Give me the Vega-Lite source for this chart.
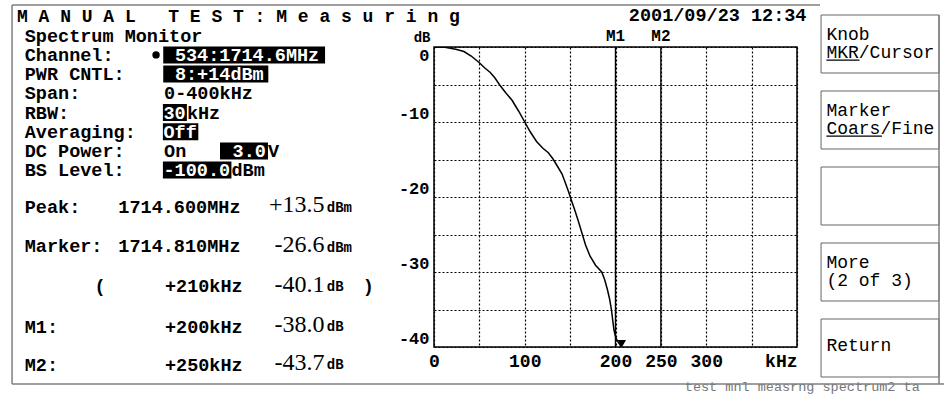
{
  "$schema": "https://vega.github.io/schema/vega-lite/v6.json",
  "width": 363,
  "height": 300,
  "autosize": {"type": "none"},
  "padding": {"left": 434, "top": 47, "right": 147, "bottom": 47},
  "background": "white",
  "config": {"view": {"stroke": "black", "strokeWidth": 1.5}, "font": "Liberation Mono"},
  "datasets": {
    "trace": [
      {"kHz": 0, "dB": 0}, {"kHz": 12, "dB": -0.05}, {"kHz": 24, "dB": -0.3}, {"kHz": 33, "dB": -0.6},
      {"kHz": 41, "dB": -1.2}, {"kHz": 50, "dB": -2.1}, {"kHz": 56, "dB": -2.8}, {"kHz": 62, "dB": -3.4},
      {"kHz": 67, "dB": -4.1}, {"kHz": 72, "dB": -5}, {"kHz": 79, "dB": -6.1}, {"kHz": 86, "dB": -7.1},
      {"kHz": 93, "dB": -8.5}, {"kHz": 100, "dB": -10}, {"kHz": 106, "dB": -11.3}, {"kHz": 113, "dB": -12.6},
      {"kHz": 120, "dB": -13.5}, {"kHz": 126, "dB": -14.1}, {"kHz": 131, "dB": -14.9}, {"kHz": 136, "dB": -15.9},
      {"kHz": 141, "dB": -16.9}, {"kHz": 145, "dB": -18.2}, {"kHz": 148, "dB": -19.2}, {"kHz": 151, "dB": -20.3},
      {"kHz": 155, "dB": -21.7}, {"kHz": 159, "dB": -23.2}, {"kHz": 163.5, "dB": -25}, {"kHz": 167, "dB": -26.4},
      {"kHz": 172, "dB": -27.9}, {"kHz": 178, "dB": -29.1}, {"kHz": 184.8, "dB": -30}, {"kHz": 188, "dB": -31},
      {"kHz": 191, "dB": -32.3}, {"kHz": 193.5, "dB": -33.6}, {"kHz": 195.5, "dB": -35}, {"kHz": 197, "dB": -36.5},
      {"kHz": 198.3, "dB": -37.7}, {"kHz": 200, "dB": -38.6}, {"kHz": 202, "dB": -39.2}, {"kHz": 205, "dB": -39.7},
      {"kHz": 206.5, "dB": -40}
    ],
    "markers": [{"marker": "M1", "kHz": 200}, {"marker": "M2", "kHz": 250}],
    "cursor": [{"kHz": 207, "dB": -39.55}],
    "screen": [
      {"kind": "title", "text": "M A N U A L\u00a0\u00a0\u00a0T E S T : M e a s u r i n g", "col": 0.32, "line": 0.02, "selected": false},
      {"kind": "main", "text": "2001/09/23 12:34", "col": 53.9, "line": -0.08, "selected": false},
      {"kind": "main", "text": "Spectrum Monitor", "col": 1, "line": 1.0, "selected": false},
      {"kind": "main", "text": "Channel:", "col": 1, "line": 2, "selected": false},
      {"kind": "main", "text": "534:1714.6MHz", "col": 14.15, "line": 2, "selected": true},
      {"kind": "main", "text": "PWR CNTL:", "col": 1, "line": 3, "selected": false},
      {"kind": "main", "text": "8:+14dBm", "col": 14.15, "line": 3, "selected": true},
      {"kind": "main", "text": "Span:", "col": 1, "line": 4, "selected": false},
      {"kind": "main", "text": "0-400kHz", "col": 13.2, "line": 4, "selected": false},
      {"kind": "main", "text": "RBW:", "col": 1, "line": 5, "selected": false},
      {"kind": "main", "text": "30", "col": 13.15, "line": 5, "selected": true},
      {"kind": "main", "text": "kHz", "col": 15.2, "line": 5, "selected": false},
      {"kind": "main", "text": "Averaging:", "col": 1, "line": 6, "selected": false},
      {"kind": "main", "text": "Off", "col": 13.15, "line": 6, "selected": true},
      {"kind": "main", "text": "DC Power:", "col": 1, "line": 7, "selected": false},
      {"kind": "main", "text": "On", "col": 13.2, "line": 7, "selected": false},
      {"kind": "main", "text": "3.0", "col": 19.2, "line": 7, "selected": true},
      {"kind": "main", "text": "V", "col": 22.3, "line": 7, "selected": false},
      {"kind": "main", "text": "BS Level:", "col": 1, "line": 8, "selected": false},
      {"kind": "main", "text": "-100.0", "col": 13.15, "line": 8, "selected": true},
      {"kind": "main", "text": "dBm", "col": 19.1, "line": 8, "selected": false},
      {"kind": "main", "text": "Peak:", "col": 1, "line": 9.9, "selected": false},
      {"kind": "main", "text": "1714.600MHz", "col": 9.2, "line": 9.9, "selected": false},
      {"kind": "main", "text": "Marker:", "col": 1, "line": 11.95, "selected": false},
      {"kind": "main", "text": "1714.810MHz", "col": 9.2, "line": 11.95, "selected": false},
      {"kind": "main", "text": "(", "col": 7.1, "line": 14.05, "selected": false},
      {"kind": "main", "text": "+210kHz", "col": 13.28, "line": 14.05, "selected": false},
      {"kind": "main", "text": ")", "col": 30.6, "line": 14.05, "selected": false},
      {"kind": "main", "text": "M1:", "col": 1, "line": 16.15, "selected": false},
      {"kind": "main", "text": "+200kHz", "col": 13.28, "line": 16.15, "selected": false},
      {"kind": "main", "text": "M2:", "col": 1, "line": 18.15, "selected": false},
      {"kind": "main", "text": "+250kHz", "col": 13.28, "line": 18.15, "selected": false},
      {"kind": "big", "text": "+13.5", "col": 27.25, "line": 9.82, "selected": false},
      {"kind": "big", "text": "-26.6", "col": 27.25, "line": 11.9, "selected": false},
      {"kind": "big", "text": "-40.1", "col": 27.25, "line": 13.98, "selected": false},
      {"kind": "big", "text": "-38.0", "col": 27.25, "line": 16.07, "selected": false},
      {"kind": "big", "text": "-43.7", "col": 27.25, "line": 18.06, "selected": false},
      {"kind": "unit", "text": "dBm", "col": 27.45, "line": 9.99, "selected": false},
      {"kind": "unit", "text": "dBm", "col": 27.45, "line": 12.07, "selected": false},
      {"kind": "unit", "text": "dB", "col": 27.45, "line": 14.07, "selected": false},
      {"kind": "unit", "text": "dB", "col": 27.45, "line": 16.16, "selected": false},
      {"kind": "unit", "text": "dB", "col": 27.45, "line": 18.15, "selected": false},
      {"kind": "footer", "text": "test mnl measrng spectrum2 ta", "col": 58.8, "line": 19.3, "selected": false}
    ],
    "highlights": [
      {"line": 2, "from": 13.13, "to": 27.3},
      {"line": 3, "from": 13.13, "to": 22.33},
      {"line": 5, "from": 13.1, "to": 15.2},
      {"line": 6, "from": 13.1, "to": 16.2},
      {"line": 7, "from": 18.1, "to": 22.3},
      {"line": 8, "from": 13.1, "to": 19.1}
    ],
    "bullet": [{"col": 12.5, "line": 2}],
    "buttons": [
      {"button": 1, "upper": "Knob", "lower": "MKR/Cursor"},
      {"button": 2, "upper": "Marker", "lower": "Coars/Fine"},
      {"button": 3},
      {"button": 4, "upper": "More", "lower": "(2 of 3)"},
      {"button": 5, "single": "Return"}
    ],
    "underlines": [
      {"word": "MKR", "col": 71.2, "col_end": 74.1, "line": 2.27},
      {"word": "Coars", "col": 71.2, "col_end": 76.06, "line": 6.23}
    ]
  },
  "layer": [
    {
      "data": {"name": "trace"},
      "mark": {"type": "line", "color": "black", "strokeWidth": 1.5, "clip": true},
      "encoding": {
        "x": {"field": "kHz", "type": "quantitative", "scale": {"domain": [0, 400], "nice": false, "zero": false},
          "axis": {"values": [0, 50, 100, 150, 200, 250, 300, 350, 400],
            "labelExpr": "datum.value==400?'kHz':((datum.value%100==0||datum.value==250)?''+datum.value:'')",
            "title": null, "domain": false, "ticks": false, "grid": true, "gridColor": "black", "gridDash": [2, 2], "gridWidth": 1.2, "gridOpacity": 1,
            "labelFont": "Liberation Mono", "labelFontWeight": "bold", "labelFontSize": 18, "labelColor": "black", "labelPadding": 5,
            "labelOverlap": false, "labelFlush": false, "labelBound": false,
            "labelAlign": {"condition": {"test": "datum.value==400", "value": "right"}, "value": "center"}}},
        "y": {"field": "dB", "type": "quantitative", "scale": {"domain": [-40, 0], "nice": false, "zero": false},
          "axis": {"values": [-40, -35, -30, -25, -20, -15, -10, -5, 0],
            "labelExpr": "datum.value%10==0?''+datum.value:''",
            "title": "dB", "titleAngle": 0, "titleAlign": "right", "titleBaseline": "bottom", "titleX": -4, "titleY": -3,
            "titleFont": "Liberation Mono", "titleFontSize": 14, "titleFontWeight": "bold", "titleColor": "black",
            "domain": false, "ticks": false, "grid": true, "gridColor": "black", "gridDash": [2, 2], "gridWidth": 1.2, "gridOpacity": 1,
            "labelFont": "Liberation Mono", "labelFontWeight": "bold", "labelFontSize": 17, "labelColor": "black", "labelPadding": 5,
            "labelOverlap": false, "labelFlush": false,
            "labelBaseline": {"condition": {"test": "datum.value==0", "value": "top"}, "value": "bottom"}}}
      }
    },
    {
      "data": {"name": "markers"},
      "mark": {"type": "rule", "color": "black", "strokeWidth": 1.4},
      "encoding": {
        "x": {"field": "kHz", "type": "quantitative", "scale": {"domain": [0, 400], "nice": false, "zero": false}, "axis": null}
      }
    },
    {
      "data": {"name": "markers"},
      "mark": {"type": "text", "baseline": "bottom", "align": "center", "dy": -3, "font": "Liberation Mono", "fontWeight": "bold", "fontSize": 16, "color": "black"},
      "encoding": {
        "x": {"field": "kHz", "type": "quantitative", "scale": {"domain": [0, 400], "nice": false, "zero": false}, "axis": null},
        "y": {"datum": 0, "type": "quantitative", "scale": {"domain": [-40, 0], "nice": false, "zero": false}, "axis": null},
        "text": {"field": "marker"}
      }
    },
    {
      "data": {"name": "cursor"},
      "mark": {"type": "point", "shape": "triangle-down", "filled": true, "color": "black", "opacity": 1, "size": 70},
      "encoding": {
        "x": {"field": "kHz", "type": "quantitative", "scale": {"domain": [0, 400], "nice": false, "zero": false}, "axis": null},
        "y": {"field": "dB", "type": "quantitative", "scale": {"domain": [-40, 0], "nice": false, "zero": false}, "axis": null}
      }
    },
    {
      "data": {"name": "highlights"},
      "mark": {"type": "rect", "color": "black", "height": 17},
      "encoding": {
        "x": {"field": "from", "type": "quantitative", "scale": {"domain": [0, 80], "range": [-420.7, 492.9], "nice": false, "zero": false}, "axis": null},
        "x2": {"field": "to"},
        "y": {"field": "line", "type": "quantitative", "scale": {"domain": [0, 20], "range": [-30.5, 353.5], "nice": false, "zero": false}, "axis": null}
      }
    },
    {
      "data": {"name": "bullet"},
      "mark": {"type": "point", "shape": "circle", "filled": true, "color": "black", "opacity": 1, "size": 55},
      "encoding": {
        "x": {"field": "col", "type": "quantitative", "scale": {"domain": [0, 80], "range": [-420.7, 492.9], "nice": false, "zero": false}, "axis": null},
        "y": {"field": "line", "type": "quantitative", "scale": {"domain": [0, 20], "range": [-30.5, 353.5], "nice": false, "zero": false}, "axis": null}
      }
    },
    {
      "data": {"name": "screen"},
      "transform": [{"filter": "datum.kind == 'title'"}],
      "mark": {"type": "text", "align": "left", "baseline": "middle", "font": "Liberation Mono", "fontWeight": "bold", "fontSize": 18, "color": "black"},
      "encoding": {
        "x": {"field": "col", "type": "quantitative", "scale": {"domain": [0, 80], "range": [-420.7, 492.9], "nice": false, "zero": false}, "axis": null},
        "y": {"field": "line", "type": "quantitative", "scale": {"domain": [0, 20], "range": [-30.5, 353.5], "nice": false, "zero": false}, "axis": null},
        "text": {"field": "text"}
      }
    },
    {
      "data": {"name": "screen"},
      "transform": [{"filter": "datum.kind == 'main'"}],
      "mark": {"type": "text", "align": "left", "baseline": "middle", "font": "Liberation Mono", "fontWeight": "bold", "fontSize": 18.5},
      "encoding": {
        "x": {"field": "col", "type": "quantitative", "scale": {"domain": [0, 80], "range": [-420.7, 492.9], "nice": false, "zero": false}, "axis": null},
        "y": {"field": "line", "type": "quantitative", "scale": {"domain": [0, 20], "range": [-30.5, 353.5], "nice": false, "zero": false}, "axis": null},
        "text": {"field": "text"},
        "color": {"condition": {"test": "datum.selected", "value": "white"}, "value": "black"}
      }
    },
    {
      "data": {"name": "screen"},
      "transform": [{"filter": "datum.kind == 'big'"}],
      "mark": {"type": "text", "align": "right", "baseline": "middle", "font": "Liberation Serif", "fontSize": 24, "color": "black"},
      "encoding": {
        "x": {"field": "col", "type": "quantitative", "scale": {"domain": [0, 80], "range": [-420.7, 492.9], "nice": false, "zero": false}, "axis": null},
        "y": {"field": "line", "type": "quantitative", "scale": {"domain": [0, 20], "range": [-30.5, 353.5], "nice": false, "zero": false}, "axis": null},
        "text": {"field": "text"}
      }
    },
    {
      "data": {"name": "screen"},
      "transform": [{"filter": "datum.kind == 'unit'"}],
      "mark": {"type": "text", "align": "left", "baseline": "middle", "font": "Liberation Mono", "fontWeight": "bold", "fontSize": 14, "color": "black"},
      "encoding": {
        "x": {"field": "col", "type": "quantitative", "scale": {"domain": [0, 80], "range": [-420.7, 492.9], "nice": false, "zero": false}, "axis": null},
        "y": {"field": "line", "type": "quantitative", "scale": {"domain": [0, 20], "range": [-30.5, 353.5], "nice": false, "zero": false}, "axis": null},
        "text": {"field": "text"}
      }
    },
    {
      "data": {"name": "screen"},
      "transform": [{"filter": "datum.kind == 'footer'"}],
      "mark": {"type": "text", "align": "left", "baseline": "middle", "font": "Liberation Mono", "fontSize": 13.5, "color": "#777777"},
      "encoding": {
        "x": {"field": "col", "type": "quantitative", "scale": {"domain": [0, 80], "range": [-420.7, 492.9], "nice": false, "zero": false}, "axis": null},
        "y": {"field": "line", "type": "quantitative", "scale": {"domain": [0, 20], "range": [-30.5, 353.5], "nice": false, "zero": false}, "axis": null},
        "text": {"field": "text"}
      }
    },
    {
      "data": {"name": "buttons"},
      "mark": {"type": "rect", "fill": "white", "fillOpacity": 0, "stroke": "#666666", "strokeWidth": 1},
      "encoding": {
        "x": {"datum": 70.73, "type": "quantitative", "scale": {"domain": [0, 80], "range": [-420.7, 492.9], "nice": false, "zero": false}, "axis": null},
        "x2": {"datum": 81.06},
        "y": {"field": "button", "type": "ordinal", "scale": {"type": "band", "domain": [1, 2, 3, 4, 5], "range": [-32, 330], "paddingInner": 0.237, "paddingOuter": 0}, "axis": null}
      }
    },
    {
      "data": {"name": "buttons"},
      "transform": [{"filter": "isValid(datum.upper)"}],
      "mark": {"type": "text", "align": "left", "baseline": "middle", "dy": -9, "font": "Liberation Mono", "fontSize": 18, "color": "black"},
      "encoding": {
        "x": {"datum": 71.2, "type": "quantitative", "scale": {"domain": [0, 80], "range": [-420.7, 492.9], "nice": false, "zero": false}, "axis": null},
        "y": {"field": "button", "type": "ordinal", "scale": {"type": "band", "domain": [1, 2, 3, 4, 5], "range": [-32, 330], "paddingInner": 0.237, "paddingOuter": 0}, "axis": null},
        "text": {"field": "upper"}
      }
    },
    {
      "data": {"name": "buttons"},
      "transform": [{"filter": "isValid(datum.lower)"}],
      "mark": {"type": "text", "align": "left", "baseline": "middle", "dy": 9.3, "font": "Liberation Mono", "fontSize": 18, "color": "black"},
      "encoding": {
        "x": {"datum": 71.2, "type": "quantitative", "scale": {"domain": [0, 80], "range": [-420.7, 492.9], "nice": false, "zero": false}, "axis": null},
        "y": {"field": "button", "type": "ordinal", "scale": {"type": "band", "domain": [1, 2, 3, 4, 5], "range": [-32, 330], "paddingInner": 0.237, "paddingOuter": 0}, "axis": null},
        "text": {"field": "lower"}
      }
    },
    {
      "data": {"name": "buttons"},
      "transform": [{"filter": "isValid(datum.single)"}],
      "mark": {"type": "text", "align": "left", "baseline": "middle", "dy": -1.6, "font": "Liberation Mono", "fontSize": 18, "color": "black"},
      "encoding": {
        "x": {"datum": 71.2, "type": "quantitative", "scale": {"domain": [0, 80], "range": [-420.7, 492.9], "nice": false, "zero": false}, "axis": null},
        "y": {"field": "button", "type": "ordinal", "scale": {"type": "band", "domain": [1, 2, 3, 4, 5], "range": [-32, 330], "paddingInner": 0.237, "paddingOuter": 0}, "axis": null},
        "text": {"field": "single"}
      }
    },
    {
      "data": {"name": "underlines"},
      "mark": {"type": "rule", "color": "black", "strokeWidth": 1.2},
      "encoding": {
        "x": {"field": "col", "type": "quantitative", "scale": {"domain": [0, 80], "range": [-420.7, 492.9], "nice": false, "zero": false}, "axis": null},
        "x2": {"field": "col_end"},
        "y": {"field": "line", "type": "quantitative", "scale": {"domain": [0, 20], "range": [-30.5, 353.5], "nice": false, "zero": false}, "axis": null}
      }
    },
    {
      "data": {"values": [{"edge": "top"}]},
      "mark": {"type": "rule", "color": "#7f7f7f", "strokeWidth": 1.5},
      "encoding": {
        "x": {"datum": -0.11, "type": "quantitative", "scale": {"domain": [0, 80], "range": [-420.7, 492.9], "nice": false, "zero": false}, "axis": null},
        "x2": {"datum": 70.64},
        "y": {"datum": -0.6, "type": "quantitative", "scale": {"domain": [0, 20], "range": [-30.5, 353.5], "nice": false, "zero": false}, "axis": null}
      }
    },
    {
      "data": {"values": [{"edge": "left"}]},
      "mark": {"type": "rule", "color": "#7f7f7f", "strokeWidth": 1.5},
      "encoding": {
        "x": {"datum": -0.11, "type": "quantitative", "scale": {"domain": [0, 80], "range": [-420.7, 492.9], "nice": false, "zero": false}, "axis": null},
        "y": {"datum": -0.6, "type": "quantitative", "scale": {"domain": [0, 20], "range": [-30.5, 353.5], "nice": false, "zero": false}, "axis": null},
        "y2": {"datum": 19.14}
      }
    },
    {
      "data": {"values": [{"edge": "bottom"}]},
      "mark": {"type": "rule", "color": "#7f7f7f", "strokeWidth": 1.5},
      "encoding": {
        "x": {"datum": -0.11, "type": "quantitative", "scale": {"domain": [0, 80], "range": [-420.7, 492.9], "nice": false, "zero": false}, "axis": null},
        "x2": {"datum": 82},
        "y": {"datum": 19.14, "type": "quantitative", "scale": {"domain": [0, 20], "range": [-30.5, 353.5], "nice": false, "zero": false}, "axis": null}
      }
    },
    {
      "data": {"values": [{"edge": "right"}]},
      "mark": {"type": "rule", "color": "#7f7f7f", "strokeWidth": 1.5},
      "encoding": {
        "x": {"datum": 81.06, "type": "quantitative", "scale": {"domain": [0, 80], "range": [-420.7, 492.9], "nice": false, "zero": false}, "axis": null},
        "y": {"datum": -0.08, "type": "quantitative", "scale": {"domain": [0, 20], "range": [-30.5, 353.5], "nice": false, "zero": false}, "axis": null},
        "y2": {"datum": 19.14}
      }
    }
  ],
  "resolve": {"scale": {"x": "independent", "y": "independent"}}
}
